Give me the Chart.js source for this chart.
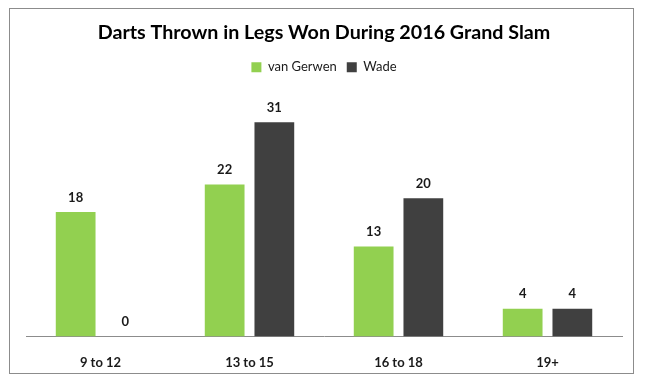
<!DOCTYPE html>
<html>
<head>
<meta charset="utf-8">
<script src="https://cdn.jsdelivr.net/npm/chart.js@4/dist/chart.umd.min.js"></script>
<style>
html,body{margin:0;padding:0;background:#fff;}
#wrap{width:645px;height:384px;position:relative;}
</style>
</head>
<body>
<div id="wrap"><canvas id="c" width="645" height="384"></canvas></div>
<script>
const categories = ["9 to 12", "13 to 15", "16 to 18", "19+"];
const vanGerwen = [18, 22, 13, 4];
const wade = [0, 31, 20, 4];
const seriesNames = ["van Gerwen", "Wade"];
const chartTitle = "Darts Thrown in Legs Won During 2016 Grand Slam";

const FONT = "Lato, 'Liberation Sans', sans-serif";

const frame = {
  id: 'frame',
  beforeDraw(chart) {
    const ctx = chart.ctx;
    ctx.save();
    ctx.fillStyle = '#fff';
    ctx.fillRect(0, 0, chart.width, chart.height);
    ctx.strokeStyle = '#8c8c8c';
    ctx.lineWidth = 1;
    ctx.strokeRect(9.5, 8.5, 624, 365);
    ctx.restore();
  }
};

const valueLabels = {
  id: 'valueLabels',
  afterDatasetsDraw(chart) {
    const ctx = chart.ctx;
    ctx.save();
    ctx.font = "bold 13px " + FONT;
    ctx.fillStyle = '#1a1a1a';
    ctx.textAlign = 'center';
    ctx.textBaseline = 'bottom';
    chart.data.datasets.forEach((ds, di) => {
      const meta = chart.getDatasetMeta(di);
      meta.data.forEach((bar, i) => {
        ctx.fillText(String(ds.data[i]), bar.x, bar.y - 8);
      });
    });
    ctx.restore();
  }
};

new Chart(document.getElementById('c'), {
  type: 'bar',
  data: {
    labels: categories,
    datasets: [
      { label: seriesNames[0], data: vanGerwen, backgroundColor: '#92D050' },
      { label: seriesNames[1], data: wade, backgroundColor: '#404040' }
    ]
  },
  options: {
    responsive: false,
    animation: false,
    devicePixelRatio: 1,
    layout: { padding: { left: 26, right: 23, top: 10, bottom: 2 } },
    datasets: { bar: { categoryPercentage: 0.667, barPercentage: 0.8 } },
    plugins: {
      title: {
        display: true,
        text: chartTitle,
        color: '#000',
        font: { family: FONT, size: 19.7, weight: 'bold' },
        padding: { top: 11, bottom: 6 }
      },
      legend: {
        display: true,
        position: 'top',
        labels: {
          boxWidth: 10, boxHeight: 10,
          color: '#1a1a1a',
          font: { family: FONT, size: 13 },
          padding: 10
        }
      },
      tooltip: { enabled: false }
    },
    scales: {
      x: {
        grid: { display: false },
        border: { display: true, color: '#8c8c8c', width: 1 },
        ticks: { color: '#1a1a1a', font: { family: FONT, size: 13, weight: 'bold' }, padding: 11 }
      },
      y: {
        display: false,
        min: 0,
        max: 36.6
      }
    }
  },
  plugins: [frame, valueLabels]
});
</script>
</body>
</html>
